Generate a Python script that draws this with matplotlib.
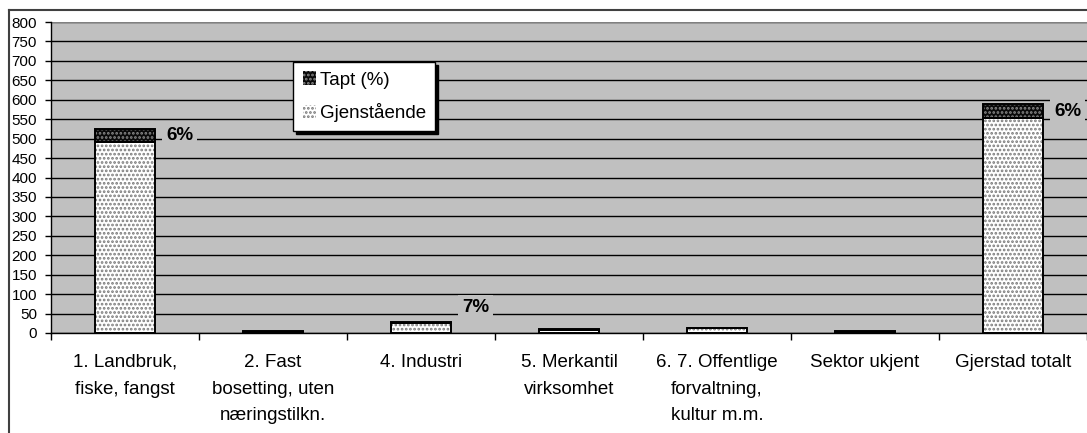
import matplotlib
matplotlib.use('Agg')
import matplotlib.pyplot as plt
import numpy as np
from matplotlib.patches import Patch
from matplotlib.lines import Line2D

plt.rcParams['font.family'] = ['Liberation Sans', 'DejaVu Sans']
plt.rcParams['hatch.linewidth'] = 1.3

categories = ['1. Landbruk,\nfiske, fangst',
              '2. Fast\nbosetting, uten\nnæringstilkn.',
              '4. Industri',
              '5. Merkantil\nvirksomhet',
              '6. 7. Offentlige\nforvaltning,\nkultur m.m.',
              'Sektor ukjent',
              'Gjerstad totalt']
gjenstaende = [492, 3, 27, 9, 12, 3, 553]
tapt = [33, 1, 2, 1, 1, 1, 36]
pct_labels = ['6%', '', '7%', '', '', '', '6%']

BG = '#c0c0c0'

fig = plt.figure(figsize=(10.87, 4.33), dpi=100)
ax = fig.add_axes([51 / 1087, 100 / 433, 1036 / 1087, 311 / 433])
ax.set_facecolor(BG)

x = np.arange(len(categories))
w = 0.4

# remaining part: white with grey dots
ax.bar(x, gjenstaende, w, color='white', edgecolor='#7a7a7a', hatch='....', lw=0, zorder=3)
# lost part: black with grey dots
ax.bar(x, tapt, w, bottom=gjenstaende, color='#0a0a0a', edgecolor='#8a8a8a', hatch='....', lw=0, zorder=3)
# outlines
ax.bar(x, gjenstaende, w, fill=False, edgecolor='black', lw=1.4, zorder=4)
ax.bar(x, tapt, w, bottom=gjenstaende, fill=False, edgecolor='black', lw=1.4, zorder=4)

for i, lab in enumerate(pct_labels):
    if not lab:
        continue
    total = gjenstaende[i] + tapt[i]
    y = gjenstaende[i] + tapt[i] / 2 if total > 100 else total + 36
    ax.text(i + 0.37, y, lab, ha='center', va='center', fontsize=13.5, fontweight='bold',
            bbox=dict(facecolor=BG, edgecolor='none', pad=3), zorder=5)

ax.set_xlim(-0.5, len(categories) - 0.5)
ax.set_ylim(0, 800)
ax.set_yticks(np.arange(0, 801, 50))
ax.grid(axis='y', color='black', lw=1, zorder=1)
ax.set_axisbelow(True)

ax.set_xticks(x)
ax.set_xticklabels(categories, fontsize=13.5, linespacing=1.75, va='top')
ax.tick_params(axis='x', which='major', length=0, pad=15)
ax.set_xticks(np.arange(-0.5, len(categories)), minor=True)
ax.tick_params(axis='x', which='minor', length=5, width=1, direction='out')
ax.tick_params(axis='y', length=4, width=1, direction='out', labelsize=11, pad=6)

for s in ['top', 'right']:
    ax.spines[s].set_visible(False)
ax.spines['left'].set_linewidth(1)
ax.spines['bottom'].set_linewidth(1)
ax.spines['bottom'].set_zorder(6)
ax.axhline(800, color='#808080', lw=1.5, zorder=2)

handles = [Patch(facecolor='#0a0a0a', edgecolor='#8a8a8a', hatch='....', lw=0),
           Patch(facecolor='white', edgecolor='#7a7a7a', hatch='....', lw=0)]
leg = ax.legend(handles, ['Tapt (%)', 'Gjenstående'], loc='upper left',
                bbox_to_anchor=(0.234, 0.871), borderaxespad=0, fontsize=13.5,
                fancybox=False, framealpha=1, edgecolor='black',
                shadow={'color': 'black', 'alpha': 1},
                handlelength=0.7, handleheight=0.7, handletextpad=0.2,
                labelspacing=0.75, borderpad=0.5)
leg.get_frame().set_linewidth(1)
leg.set_zorder(7)

# outer chart frame
fig.add_artist(Line2D([9 / 1087, 9 / 1087], [0, 423 / 433], color='#404040', lw=1.5))
fig.add_artist(Line2D([9 / 1087, 1], [423 / 433, 423 / 433], color='#404040', lw=1.5))

fig.savefig('out.png', dpi=100)
